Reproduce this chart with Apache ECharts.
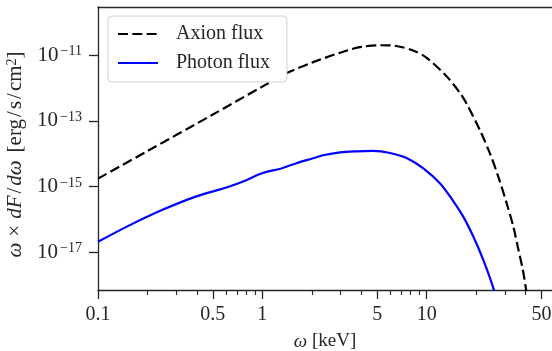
<!DOCTYPE html>
<html>
<head>
<meta charset="utf-8">
<script src="https://cdn.jsdelivr.net/npm/echarts@6/dist/echarts.min.js"></script>
<style>
  html, body { margin: 0; padding: 0; background: #fff; }
  #chart { width: 552px; height: 351px; }
</style>
</head>
<body>
<div id="chart"></div>
<script>
// Energies [keV] and ω·dF/dω [erg/s/cm²]
const axionKeV = [0.1, 0.2, 0.5, 1, 1.41, 2.04, 3.28, 4.0, 5.2, 6.5, 8.26, 10, 13.3, 16, 17.5, 21.1, 24.3, 27.3, 30.7, 33.7, 36.2, 38.5, 40.3, 42];
const axionFlux = [1.74e-15, 1.2e-14, 1.55e-13, 1.1e-12, 2.84e-12, 6.12e-12, 1.39e-11, 1.78e-11, 2.0e-11, 1.9e-11, 1.39e-11, 8.3e-12, 2.19e-12, 6.9e-13, 3.33e-13, 5.14e-14, 1.0e-14, 1.96e-15, 3.04e-16, 5.9e-17, 1.16e-17, 2.86e-18, 7.05e-19, 1.6e-19];

const photonKeV = [0.1, 0.152, 0.245, 0.389, 0.618, 0.785, 0.995, 1.318, 1.626, 2.035, 2.34, 2.97, 3.77, 4.72, 5.99, 7.6, 9.5, 12.07, 14.54, 16.73, 19.25, 22.13, 25.47, 26.5];
const photonFlux = [2.07e-17, 6.21e-17, 1.91e-16, 4.83e-16, 9.7e-16, 1.5e-15, 2.54e-15, 3.6e-15, 5.21e-15, 7.24e-15, 8.93e-15, 1.1e-14, 1.18e-14, 1.21e-14, 1.05e-14, 7.24e-15, 3.6e-15, 1.23e-15, 3.55e-16, 1.19e-16, 2.94e-17, 5.75e-18, 7.9e-19, 2.8e-19];

const xMajorTicks = [0.1, 0.5, 1, 5, 10, 50];
const xTickLabels = ['0.1', '0.5', '1', '5', '10', '50'];
const xMinorTicks = [0.2, 0.3, 0.4, 0.6, 0.7, 0.8, 0.9, 2, 3, 4, 6, 7, 8, 9, 20, 30, 40];
const yTicks = [1e-17, 1e-15, 1e-13, 1e-11];

const X_MIN = 0.1, X_MAX = 57.9;
const Y_MIN = 7.05e-19, Y_MAX = 2.92e-10;
const INK = '#262626';
const FONT = '"Liberation Serif", "DejaVu Serif", serif';
const GRID = { left: 98, right: 0, top: 7, bottom: 61, outerBoundsMode: 'none', containLabel: false };

function xLabel(v) {
  const i = xMajorTicks.findIndex((t) => Math.abs(t - v) / t < 1e-6);
  return i < 0 ? '' : xTickLabels[i];
}

function yLabel(v) {
  const e = Math.round(Math.log10(v));
  return '{b|10}{s|' + (e < 0 ? '\u2212' : '') + Math.abs(e) + '}';
}

const nameRich = {
  i: { fontFamily: FONT, fontSize: 21, fontStyle: 'italic', color: INK },
  op: { fontFamily: FONT, fontSize: 21, color: INK, padding: [0, 6] },
  sl: { fontFamily: FONT, fontSize: 21, color: INK, padding: [0, 2] },
  u: { fontFamily: FONT, fontSize: 21, color: INK, padding: [0, 0, 0, 8] },
  sup: { fontFamily: FONT, fontSize: 14, color: INK, verticalAlign: 'top' },
  e: { fontFamily: FONT, fontSize: 21, color: INK, padding: [0, 12, 0, 0] },
};

const chart = echarts.init(document.getElementById('chart'), null, { renderer: 'canvas' });

chart.setOption({
  animation: false,
  backgroundColor: '#fff',
  textStyle: { fontFamily: FONT },
  grid: [GRID, GRID],
  legend: {
    orient: 'vertical',
    left: 108,
    top: 16,
    padding: [8, 17, 9, 9],
    itemWidth: 40,
    itemHeight: 14,
    itemGap: 9,
    borderColor: '#d0d0d0',
    borderWidth: 1,
    borderRadius: 4,
    backgroundColor: '#fff',
    itemStyle: { opacity: 0 },
    textStyle: { fontFamily: FONT, fontSize: 20, color: INK, padding: [0, 0, 0, 13] },
    data: ['Axion flux', 'Photon flux'],
  },
  xAxis: [
    {
      type: 'log',
      gridIndex: 0,
      min: X_MIN,
      max: X_MAX,
      name: '{i|\u03c9} [keV]',
      nameLocation: 'middle',
      nameGap: 42,
      nameTextStyle: {
        fontFamily: FONT, fontSize: 19, color: INK,
        rich: { i: { fontFamily: FONT, fontSize: 19, fontStyle: 'italic', color: INK } },
      },
      axisLine: { lineStyle: { color: INK, width: 1.3 } },
      axisTick: { customValues: xMajorTicks, length: 9, lineStyle: { color: INK, width: 1.3 } },
      axisLabel: { customValues: xMajorTicks, formatter: xLabel, margin: 15, fontSize: 20, color: INK, fontFamily: FONT },
      splitLine: { show: false },
      minorTick: { show: false },
    },
    {
      type: 'log',
      gridIndex: 1,
      min: X_MIN,
      max: X_MAX,
      axisLine: { show: false },
      axisTick: { customValues: xMinorTicks, length: 5, lineStyle: { color: INK, width: 1.1 } },
      axisLabel: { show: false },
      splitLine: { show: false },
    },
    {
      type: 'log',
      gridIndex: 0,
      position: 'top',
      min: X_MIN,
      max: X_MAX,
      axisLine: { lineStyle: { color: INK, width: 1.3 } },
      axisTick: { show: false },
      axisLabel: { show: false },
      splitLine: { show: false },
    },
  ],
  yAxis: [
    {
      type: 'log',
      gridIndex: 0,
      min: Y_MIN,
      max: Y_MAX,
      name: '{i|\u03c9}{op|\u00d7}{i|dF}{sl|/}{i|d\u03c9}{u|[erg}{sl|/}s{sl|/}cm{sup|2}{e|]}',
      nameLocation: 'middle',
      nameRotate: 90,
      nameGap: 70,
      nameTextStyle: { fontFamily: FONT, fontSize: 21, color: INK, rich: nameRich },
      axisLine: { lineStyle: { color: INK, width: 1.3 } },
      axisTick: { customValues: yTicks, length: 9, lineStyle: { color: INK, width: 1.3 } },
      axisLabel: {
        customValues: yTicks,
        formatter: yLabel,
        margin: 16,
        color: INK,
        rich: {
          b: { fontFamily: FONT, fontSize: 21, color: INK, verticalAlign: 'bottom' },
          s: { fontFamily: FONT, fontSize: 14, color: INK, verticalAlign: 'top', padding: [0, 0, 0, 2] },
        },
      },
      splitLine: { show: false },
    },
    {
      type: 'log',
      gridIndex: 1,
      min: Y_MIN,
      max: Y_MAX,
      show: false,
    },
  ],
  series: [
    {
      name: 'Axion flux',
      type: 'line',
      xAxisIndex: 0,
      yAxisIndex: 0,
      data: axionKeV.map((k, i) => [k, axionFlux[i]]),
      symbol: 'none',
      smooth: 0.3,
      clip: true,
      lineStyle: { color: '#000', width: 2.2, type: [10, 4.3] },
      itemStyle: { color: '#000' },
      z: 3,
    },
    {
      name: 'Photon flux',
      type: 'line',
      xAxisIndex: 0,
      yAxisIndex: 0,
      data: photonKeV.map((k, i) => [k, photonFlux[i]]),
      symbol: 'none',
      smooth: 0.3,
      clip: true,
      lineStyle: { color: '#0000ff', width: 2.2 },
      itemStyle: { color: '#0000ff' },
      z: 2,
    },
  ],
});
</script>
</body>
</html>
